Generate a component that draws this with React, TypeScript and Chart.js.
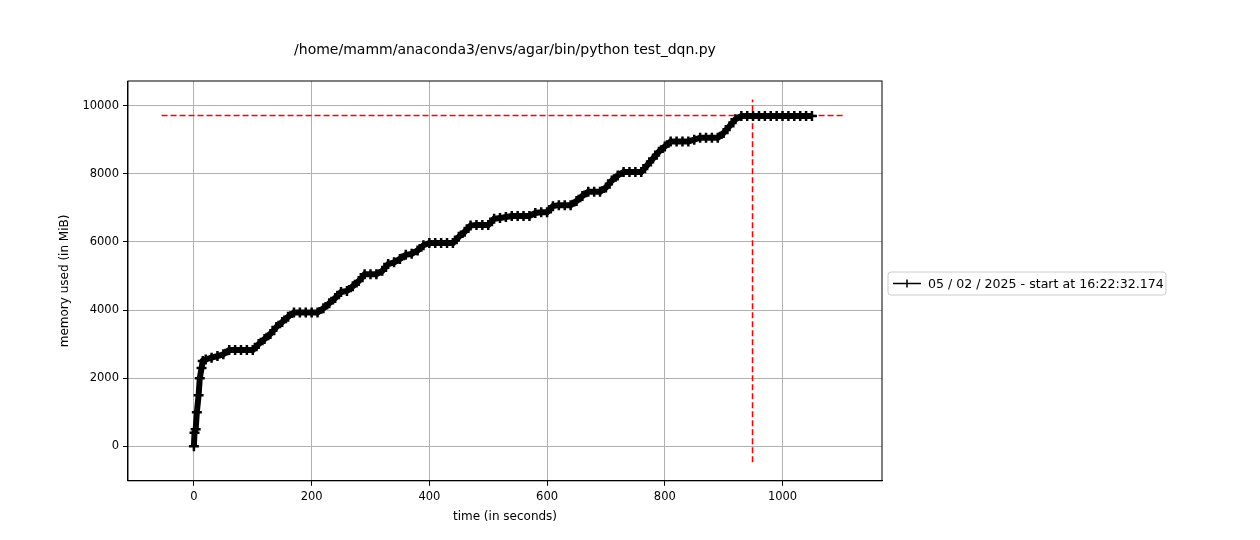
import React, { useEffect, useRef } from "react";
import { Chart, registerables } from "chart.js";
Chart.register(...registerables);

const times = [0,1,3,5,8,10,13,15,20,30,40,50,60,70,80,90,100,110,120,130,140,150,160,170,180,190,200,210,220,230,240,250,260,270,280,290,300,310,320,330,340,350,360,370,380,390,400,410,420,430,440,450,460,470,480,490,500,510,520,530,540,550,560,570,580,590,600,610,620,630,640,650,660,670,680,690,700,710,720,730,740,750,760,770,780,790,800,810,820,830,840,850,860,870,880,890,900,910,920,930,940,950,960,970,980,990,1000,1010,1020,1030,1040,1050];
const memory = [0,400,500,1000,1500,2000,2300,2500,2550,2600,2650,2700,2830,2830,2830,2830,2830,3000,3150,3300,3500,3650,3800,3930,3930,3930,3930,3930,4050,4200,4350,4530,4560,4700,4850,5050,5050,5050,5150,5350,5400,5500,5620,5650,5750,5900,5970,5970,5970,5970,5970,6150,6300,6480,6500,6500,6500,6680,6700,6730,6760,6760,6760,6760,6850,6870,6870,7050,7080,7080,7080,7200,7350,7470,7470,7470,7600,7800,7950,8050,8050,8050,8050,8250,8450,8650,8800,8950,8950,8950,8950,9000,9060,9060,9060,9060,9200,9400,9600,9700,9700,9700,9700,9700,9700,9700,9700,9700,9700,9700,9700,9700];
const hLineX = [-55, 1105];
const hLineY = 9710;
const vLineX = 949;
const vLineY = [-470, 10180];
const xTicks = [0, 200, 400, 600, 800, 1000];
const yTicks = [0, 2000, 4000, 6000, 8000, 10000];
const legendLabel = "05 / 02 / 2025 - start at 16:22:32.174";
const titleText = "/home/mamm/anaconda3/envs/agar/bin/python test_dqn.py";
const FONT = "'DejaVu Sans', sans-serif";

export default function App() {
  const ref = useRef<HTMLCanvasElement>(null);
  useEffect(() => {
    document.body.style.margin = "0";
    const frame = {
      id: "frame",
      afterDatasetsDraw(c: any) {
        const { ctx, chartArea: a } = c;
        ctx.save();
        ctx.strokeStyle = "#000";
        ctx.lineWidth = 1;
        ctx.strokeRect(a.left, a.top, a.right - a.left, a.bottom - a.top);
        ctx.fillStyle = "#000";
        ctx.font = "14px " + FONT;
        ctx.textAlign = "center";
        ctx.textBaseline = "middle";
        ctx.fillText(titleText, (a.left + a.right) / 2, 50);
        // legend
        const lx = 888, ly = 272, lw = 278, lh = 23;
        ctx.fillStyle = "rgba(255,255,255,0.8)";
        ctx.strokeStyle = "#ccc";
        ctx.beginPath();
        ctx.roundRect(lx, ly, lw, lh, 3);
        ctx.fill();
        ctx.stroke();
        const cy = ly + lh / 2;
        ctx.strokeStyle = "#000";
        ctx.lineWidth = 1.5;
        ctx.beginPath();
        ctx.moveTo(lx + 5, cy); ctx.lineTo(lx + 33, cy);
        ctx.moveTo(lx + 19, cy - 4); ctx.lineTo(lx + 19, cy + 4);
        ctx.stroke();
        ctx.fillStyle = "#000";
        ctx.font = "12.6px " + FONT;
        ctx.textAlign = "left";
        ctx.fillText(legendLabel, lx + 40, cy + 1);
        ctx.restore();
      },
    };
    const tickFont = { family: FONT, size: 11.5 };
    const chart = new Chart(ref.current!, {
      type: "scatter",
      data: {
        datasets: [
          {
            data: times.map((t, i) => ({ x: t, y: memory[i] })),
            showLine: true,
            borderColor: "#000",
            backgroundColor: "#000",
            borderWidth: 6,
            pointStyle: "cross",
            pointRadius: 5,
            pointBorderWidth: 2.5,
          },
          {
            data: hLineX.map((x) => ({ x, y: hLineY })),
            showLine: true,
            borderColor: "red",
            borderWidth: 1.5,
            borderDash: [6, 3],
            pointRadius: 0,
          },
          {
            data: vLineY.map((y) => ({ x: vLineX, y })),
            showLine: true,
            borderColor: "red",
            borderWidth: 1.5,
            borderDash: [6, 3],
            pointRadius: 0,
          },
        ],
      },
      options: {
        animation: false,
        responsive: false,
        layout: { padding: { left: 54, right: 378, top: 81, bottom: 12 } },
        plugins: { legend: { display: false }, tooltip: { enabled: false }, title: { display: false } },
        scales: {
          x: {
            type: "linear",
            min: -112,
            max: 1169,
            afterBuildTicks: (s: any) => { s.ticks = xTicks.map((v) => ({ value: v })); },
            ticks: { color: "#000", font: tickFont, padding: 4, callback: (v: any) => String(v) },
            grid: { color: "#b0b0b0", tickLength: 5, tickColor: "#000" },
            border: { color: "#000" },
            title: { display: true, text: "time (in seconds)", color: "#000", font: { family: FONT, size: 12 }, padding: { top: 2 } },
          },
          y: {
            type: "linear",
            min: -1014,
            max: 10725,
            afterBuildTicks: (s: any) => { s.ticks = yTicks.map((v) => ({ value: v })); },
            ticks: { color: "#000", font: tickFont, padding: 4, callback: (v: any) => String(v) },
            grid: { color: "#b0b0b0", tickLength: 5, tickColor: "#000" },
            border: { color: "#000" },
            title: { display: true, text: "memory used (in MiB)", color: "#000", font: { family: FONT, size: 12 }, padding: { bottom: 6 } },
          },
        },
      },
      plugins: [frame],
    } as any);
    return () => chart.destroy();
  }, []);
  return <canvas ref={ref} width={1260} height={540} style={{ display: "block" }} />;
}
